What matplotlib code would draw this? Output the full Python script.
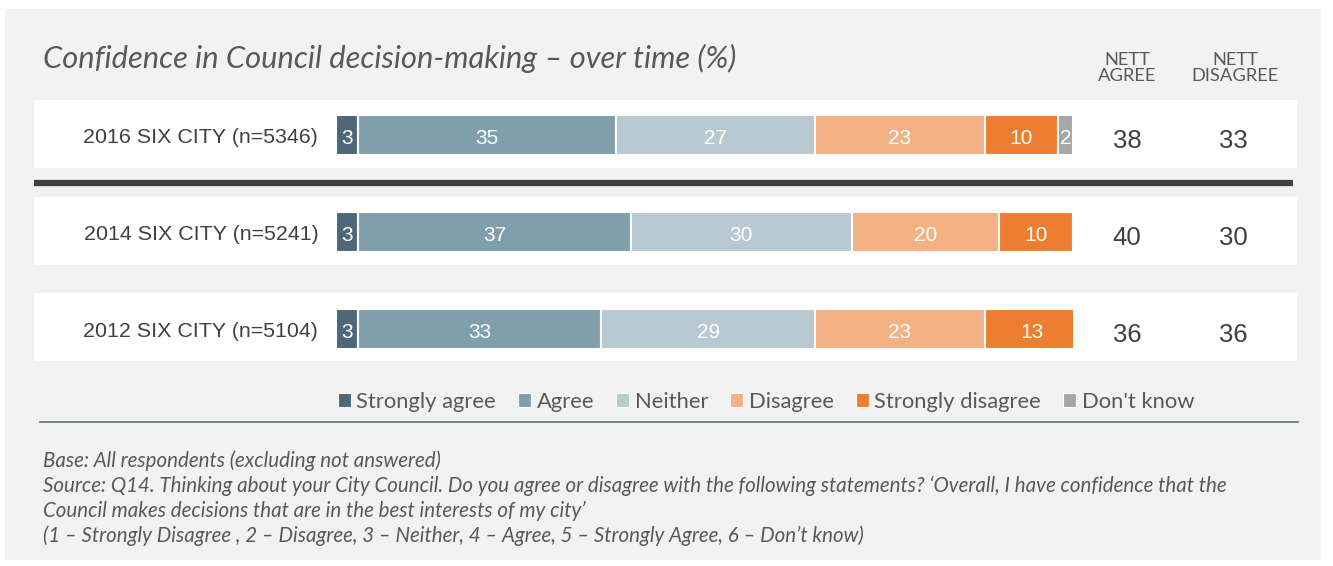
import numpy as np
import matplotlib
matplotlib.use('Agg')
import matplotlib.pyplot as plt
from matplotlib.patches import Rectangle, Patch

# survey waves, top to bottom
waves = ['2016 SIX CITY (n=5346)', '2014 SIX CITY (n=5241)', '2012 SIX CITY (n=5104)']
categories = ['Strongly agree', 'Agree', 'Neither', 'Disagree', 'Strongly disagree', "Don't know"]
strongly_agree = [3, 3, 3]
agree = [35, 37, 33]
neither = [27, 30, 29]
disagree = [23, 20, 23]
strongly_disagree = [10, 10, 13]
dont_know = [2, 0, 0]

colors = ['#4e6879', '#809fad', '#b8c9d1', '#f4b183', '#ed7d31', '#a6a6a6']

title = 'Confidence in Council decision-making \u2013 over time (%)'
notes = ['Base: All respondents (excluding not answered)',
         'Source: Q14. Thinking about your City Council. Do you agree or disagree with the following statements? \u2018Overall, I have confidence that the',
         'Council makes decisions that are in the best interests of my city\u2019',
         '(1 \u2013 Strongly Disagree , 2 \u2013 Disagree, 3 \u2013 Neither, 4 \u2013 Agree, 5 \u2013 Strongly Agree, 6 \u2013 Don\u2019t know)']

W, H = 1333, 566
fig = plt.figure(figsize=(W / 100, H / 100), dpi=100)
fig.patch.set_facecolor('white')

# background layer in pixel units
bg = fig.add_axes([0, 0, 1, 1], zorder=0)
bg.set_xlim(0, W)
bg.set_ylim(H, 0)
bg.axis('off')
bg.add_patch(Rectangle((5, 9), 1316, 551, color='#f2f2f2', lw=0))
row_centers = [134, 231, 327]
for yc in row_centers:
    bg.add_patch(Rectangle((34, yc - 34), 1263, 68, color='white', lw=0))
bg.plot([34, 1293], [183, 183], color='#404040', lw=4.5, solid_capstyle='butt')
bg.plot([40, 1298], [422, 422], color='#5a7385', lw=1.2)

sans = 'Lato'
bg.text(43, 58, title, fontsize=22.2, style='italic', family=sans, color='#595959', va='center')
bg.text(1127, 68, 'NETT\nAGREE', fontsize=13.2, family=sans, color='#595959',
        ha='center', va='center', linespacing=0.95)
bg.text(1235, 68, 'NETT\nDISAGREE', fontsize=13.2, family=sans, color='#595959',
        ha='center', va='center', linespacing=0.95)
for i, line in enumerate(notes):
    bg.text(43, 461 + i * 25, line, fontsize=14.8, style='italic', family=sans,
            color='#595959', va='center')

# stacked bars
ax = fig.add_axes([336 / W, 1 - (329 + 48.25) / H, 737 / W, (329 - 135 + 97) / H], zorder=1)
ax.patch.set_alpha(0)
series = np.array([strongly_agree, agree, neither, disagree, strongly_disagree, dont_know])
y = np.arange(len(waves))
left = np.zeros(len(waves))
for vals, col in zip(series, colors):
    ax.barh(y, vals, left=left, height=0.415, color=col, edgecolor='white', linewidth=1.5)
    for yi, v, l in zip(y, vals, left):
        if v > 0:
            ax.text(l + v / 2, yi + 0.035, str(v), ha='center', va='center', color='white',
                    fontsize=15, family='Liberation Sans')
    left += vals
ax.set_xlim(0, 100)
ax.set_ylim(2.5, -0.5)
ax.axis('off')

nett_agree = series[0] + series[1]
nett_disagree = series[3] + series[4]
for yi, wave, na, nd in zip(y, waves, nett_agree, nett_disagree):
    ax.text(-2.4, yi + 0.025, wave, ha='right', va='center', fontsize=15.4, family='Liberation Sans', color='#404040')
    ax.text((1127 - 336) / 7.37, yi + 0.06, str(na), ha='center', va='center', fontsize=18.5,
            family='Liberation Sans', color='#404040')
    ax.text((1233 - 336) / 7.37, yi + 0.06, str(nd), ha='center', va='center', fontsize=18.5,
            family='Liberation Sans', color='#404040')

handles = [Patch(facecolor=c, edgecolor='white', lw=0.8) for c in colors]
leg = fig.legend(handles, categories, loc='center', bbox_to_anchor=(766 / W, 1 - 402 / H),
                 ncol=6, frameon=False, handlelength=0.6, handleheight=0.6,
                 handletextpad=0.25, columnspacing=1.0,
                 prop={'family': sans, 'size': 15.8})
for t in leg.get_texts():
    t.set_color('#595959')

fig.savefig('out.png', dpi=100, facecolor=fig.get_facecolor())
